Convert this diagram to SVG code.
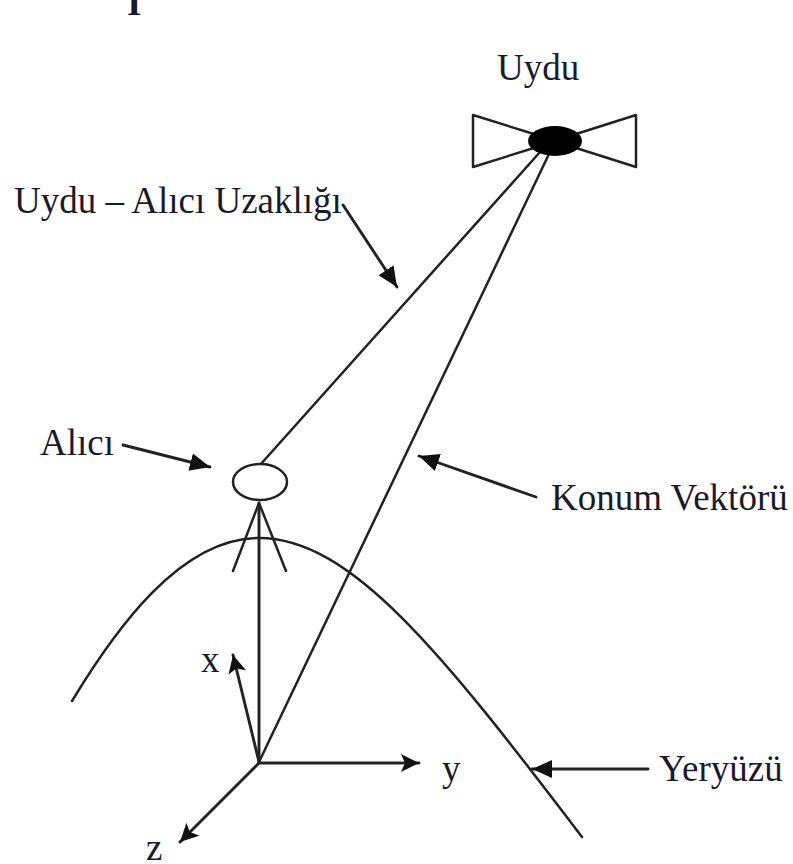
<svg xmlns="http://www.w3.org/2000/svg" width="793" height="864" viewBox="0 0 793 864">
<style>
text{font-family:"Liberation Serif","Times New Roman",serif;fill:#1a1a2a;font-size:37px}
.l{fill:none;stroke:#222;stroke-width:2.5;stroke-linecap:round;stroke-linejoin:round}
.a{stroke-width:2.9}
</style>
<defs>
<marker id="tri" markerUnits="userSpaceOnUse" markerWidth="24" markerHeight="20" refX="20" refY="9" orient="auto"><path d="M0 0L20 9L0 18Z" fill="#111"/></marker>
<marker id="bar" markerUnits="userSpaceOnUse" markerWidth="24" markerHeight="20" refX="18" refY="9" orient="auto"><path d="M0 0L18 9L0 18L4 9Z" fill="#111"/></marker>
</defs>
<rect width="793" height="864" fill="#fff"/>
<text x="127" y="15" font-weight="bold">I</text>
<g id="connectors">
<path class="l" d="M540 152L260 465"/>
<path class="l" d="M549 154L259 762"/>
<path class="l a" d="M259 503V762"/>
<path class="l" d="M72 701C115 630 180 538 259 538C350 538 440 650 582 837"/>
<path class="l a" d="M343 205L397 287" marker-end="url(#tri)"/>
<path class="l a" d="M123 445L210 467" marker-end="url(#tri)"/>
<path class="l a" d="M536 497L419 456" marker-end="url(#tri)"/>
<path class="l a" d="M648 769H532" marker-end="url(#tri)"/>
<path class="l a" d="M259 762L233 655" marker-end="url(#bar)"/>
<path class="l a" d="M259 763H419" marker-end="url(#bar)"/>
<path class="l a" d="M259 763L180 842" marker-end="url(#bar)"/>
</g>
<g id="satellite">
<path class="l" d="M537 135L473 115V167L537 147M573 135L636 115V167L573 147"/>
<ellipse cx="555" cy="141" rx="27" ry="15" fill="#000"/>
<text x="497" y="80">Uydu</text>
</g>
<g id="receiver">
<ellipse cx="260" cy="482" rx="27" ry="18" fill="#fff" stroke="#222" stroke-width="2.5"/>
<path class="l" d="M259 503L233 571M259 503L286 571"/>
<text x="40" y="455">Alıcı</text>
</g>
<g id="labels">
<text x="14" y="213">Uydu – Alıcı Uzaklığı</text>
<text x="551" y="510">Konum Vektörü</text>
<text x="659" y="781">Yeryüzü</text>
<text x="201" y="672">x</text>
<text x="442" y="781">y</text>
<text x="146" y="860">z</text>
</g>
</svg>
